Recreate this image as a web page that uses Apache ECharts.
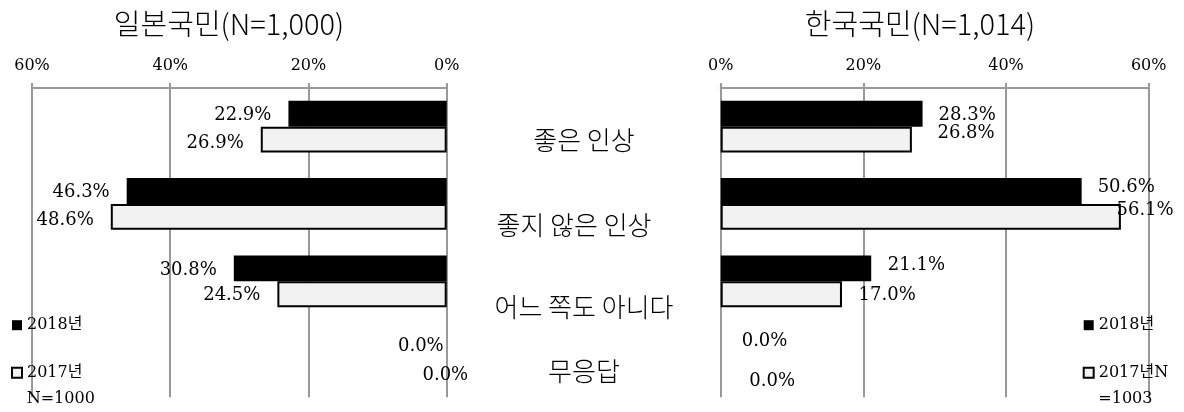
<!DOCTYPE html>
<html>
<head>
<meta charset="utf-8">
<script src="https://cdn.jsdelivr.net/npm/echarts@6/dist/echarts.min.js"></script>
<style>
  html, body { margin: 0; padding: 0; background: #fff; }
  #chart { width: 1184px; height: 412px; }
</style>
</head>
<body>
<div id="chart"></div>
<script>
// Impression survey: Japanese vs Korean respondents, 2018 vs 2017 (%)
const categories = ['좋은 인상', '좋지 않은 인상', '어느 쪽도 아니다', '무응답'];
const seriesNames = ['2018년', '2017년'];
const jp2018 = [22.9, 46.3, 30.8, 0.0];
const jp2017 = [26.9, 48.6, 24.5, 0.0];
const kr2018 = [28.3, 50.6, 21.1, 0.0];
const kr2017 = [26.8, 56.1, 17.0, 0.0];
const axisMax = 60;
const axisStep = 20;
const titles = ['일본국민(N=1,000)', '한국국민(N=1,014)'];
const sampleNotes = ['N=1000', '=1003'];

// hand-placed label nudges [dx, dy] per bar
const jpOff2018 = [[0, 2], [0, 1], [0, 2], [14, 1]];
const jpOff2017 = [[0, 3.5], [0, 3], [0, 1], [38.5, 3.5]];
const krOff2018 = [[0, 1.7], [0, -3.6], [0.6, -3], [5, -4]];
const krOff2017 = [[9.6, -6.3], [-20.4, -6.3], [0.6, 1], [12.6, 10]];
// category label nudges [dx, dy]
const catOff = [[0, 13.7], [-10, 20.7], [0, 25.7], [0, 12.2]];

const SERIF = "'DejaVu Serif', 'Noto Sans CJK KR', serif";
const SANS = "'Noto Sans CJK KR', sans-serif";
const GRID_COLOR = '#999';

const chart = echarts.init(document.getElementById('chart'), null, { renderer: 'canvas' });

// zero-length bars carry no outline
function items(values, offsets) {
  return values.map((v, i) => {
    const it = { value: v, label: { offset: offsets[i] } };
    if (v === 0) it.itemStyle = { borderWidth: 0 };
    return it;
  });
}

function xAxisFor(gridIndex, inverse) {
  return {
    type: 'value', gridIndex, position: 'top', inverse,
    min: 0, max: axisMax, interval: axisStep,
    axisLine: { show: true, lineStyle: { color: GRID_COLOR, width: 2 } },
    axisTick: { show: true, inside: false, length: 5, lineStyle: { color: GRID_COLOR, width: 2 } },
    splitLine: { show: true, lineStyle: { color: GRID_COLOR, width: 2 } },
    axisLabel: { formatter: '{value}%', margin: 14, color: '#000', fontFamily: SERIF, fontSize: 16 }
  };
}

const catRich = {};
catOff.forEach((o, i) => {
  catRich['c' + i] = {
    fontFamily: SANS, fontSize: 26, fontWeight: 300, color: '#000',
    padding: [Math.max(0, 2 * o[1]), Math.max(0, -2 * o[0]), 0, 0]
  };
});

function barSeries(name, xi, yi, values, offsets, light, position) {
  return {
    name, type: 'bar', xAxisIndex: xi, yAxisIndex: yi,
    barGap: '0%', barCategoryGap: '33%',
    itemStyle: light
      ? { color: '#f2f2f2', borderColor: '#000', borderWidth: 2 }
      : { color: '#000', borderColor: '#000', borderWidth: 0 },
    label: {
      show: true, position, distance: position === 'left' ? 17 : 16,
      color: '#000', fontFamily: SERIF, fontSize: 18,
      formatter: p => p.value.toFixed(1) + '%'
    },
    data: items(values, offsets)
  };
}

const legendBase = {
  orient: 'vertical', top: 316.2, itemGap: 29.6, padding: 0,
  itemWidth: 10, itemHeight: 10, icon: 'rect',
  textStyle: { color: '#000', fontFamily: SERIF, fontSize: 16, lineHeight: 18 },
  data: seriesNames
};

const titleStyle = { fontFamily: SANS, fontSize: 29, fontWeight: 300, color: '#000' };
const noteStyle = { fontFamily: SERIF, fontSize: 16, fontWeight: 'normal', color: '#000' };

const option = {
  animation: false,
  backgroundColor: '#fff',
  title: [
    { text: titles[0], left: 229, top: 9, padding: 0, textAlign: 'center', textStyle: titleStyle },
    { text: titles[1], left: 920, top: 9, padding: 0, textAlign: 'center', textStyle: titleStyle },
    { text: sampleNotes[0], left: 26.7, top: 391, padding: 0, textStyle: noteStyle },
    { text: sampleNotes[1], left: 1098.3, top: 391, padding: 0, textStyle: noteStyle }
  ],
  legend: [
    Object.assign({}, legendBase, { left: 11 }),
    Object.assign({}, legendBase, { left: 1082.7,
      formatter: n => n === seriesNames[1] ? n + 'N' : n })
  ],
  grid: [
    { left: 32, right: 1184 - 446.7, top: 88, bottom: 14.75, containLabel: false },
    { left: 720.7, right: 1184 - 1148.7, top: 88, bottom: 14.75, containLabel: false }
  ],
  xAxis: [xAxisFor(0, true), xAxisFor(1, false)],
  yAxis: [
    { type: 'category', gridIndex: 0, data: categories, inverse: true,
      axisLine: { show: false }, axisTick: { show: false }, axisLabel: { show: false },
      splitLine: { show: false } },
    { type: 'category', gridIndex: 1, data: categories, inverse: true,
      axisLine: { show: false }, axisTick: { show: false }, splitLine: { show: false },
      axisLabel: {
        show: true, margin: 136.7, align: 'center', interval: 0,
        formatter: (v, i) => '{c' + i + '|' + v + '}',
        rich: catRich
      } }
  ],
  series: [
    barSeries(seriesNames[0], 0, 0, jp2018, jpOff2018, false, 'left'),
    barSeries(seriesNames[1], 0, 0, jp2017, jpOff2017, true, 'left'),
    barSeries(seriesNames[0], 1, 1, kr2018, krOff2018, false, 'right'),
    barSeries(seriesNames[1], 1, 1, kr2017, krOff2017, true, 'right')
  ]
};

chart.setOption(option);
</script>
</body>
</html>
